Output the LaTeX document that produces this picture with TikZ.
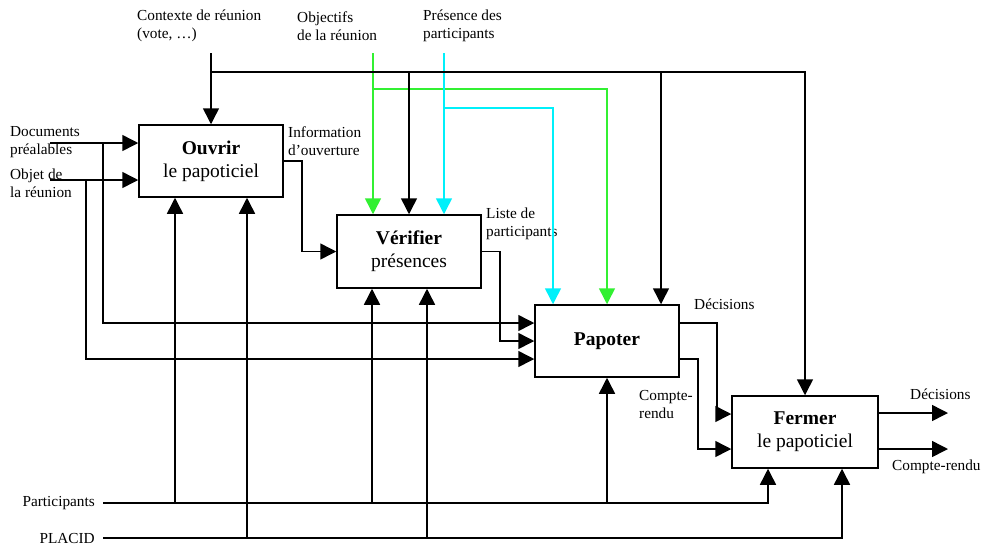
\documentclass[tikz,border=0pt]{standalone}
\usepackage{fontspec}
\setmainfont{Liberation Serif}
\usetikzlibrary{arrows.meta}
\definecolor{lgreen}{RGB}{50,240,50}
\definecolor{lcyan}{RGB}{0,240,250}
\begin{document}
\begin{tikzpicture}[x=1pt,y=-1pt,
 arr/.style={-{Triangle[length=16pt,width=16pt]}, line width=1.5pt},
 ln/.style={line width=1.5pt},
 box/.style={draw, line width=1.5pt, minimum width=144pt, minimum height=72pt, inner sep=0pt, align=center, font=\fontsize{19.5}{23}\selectfont},
 lab/.style={inner sep=0pt, align=left, anchor=west, font=\fontsize{15.3}{18}\selectfont}]
\useasboundingbox (0,0) rectangle (982,547);
% boxes
\node[box] (ouv) at (211,161) {\textbf{Ouvrir}\\le papoticiel};
\node[box, minimum height=73pt] (ver) at (409,251.5) {\textbf{Vérifier}\\présences};
\node[box] (pap) at (607,341) {\textbf{Papoter}};
\node[box, minimum width=146pt] (fer) at (805,432) {\textbf{Fermer}\\le papoticiel};
% labels
\node[lab] (lctx) at (137,26) {Contexte de réunion\\(vote, …)};
\node[lab] (lobj) at (297,26) {Objectifs\\de la réunion};
\node[lab] (lpres) at (423,26) {Présence des\\participants};
\node[lab] (ldoc) at (10,142) {Documents\\préalables};
\node[lab] (lobjet) at (10,183) {Objet de\\la réunion};
\node[lab] (linfo) at (288,141) {Information\\d’ouverture};
\node[lab] (lliste) at (486,223.5) {Liste de\\participants};
\node[lab] (ldec1) at (694,304) {Décisions};
\node[lab] (lcr1) at (639,404.5) {Compte-\\rendu};
\node[lab] (ldec2) at (910,394) {Décisions};
\node[lab] (lcr2) at (892,467) {Compte-rendu};
\node[lab, anchor=east] (lpart) at (95,503) {Participants};
\node[lab, anchor=east] (lplac) at (95,538) {PLACID};
% coordinates
\coordinate (ctxTop) at (211,53);
\coordinate (ctxJ) at (211,72);
\coordinate (k2) at (409,72);
\coordinate (k3) at (661,72);
\coordinate (gTop) at (373,53);
\coordinate (gJ) at (373,89);
\coordinate (cTop) at (444,53);
\coordinate (cJ) at (444,108);
\coordinate (cD) at (553,108);
\coordinate (doc) at (50,143);
\coordinate (docJ) at (103,143);
\coordinate (obj) at (50,180);
\coordinate (objJ) at (86,180);
\coordinate (outD) at (948,413);
\coordinate (outC) at (948,449);
\coordinate (partL) at (103,503);
\coordinate (pa1) at (175,503);
\coordinate (pa2) at (372,503);
\coordinate (pa3) at (607,503);
\coordinate (plL) at (103,538);
\coordinate (pl1) at (247,538);
\coordinate (pl2) at (427,538);
% coloured controls
\draw[arr, lgreen] (gTop) -- (gTop |- ver.north);
\draw[arr, lgreen] (gJ) -| (pap.north);
\draw[arr, lcyan] (cTop) -- (cTop |- ver.north);
\draw[arr, lcyan] (cJ) -- (cD) -- (cD |- pap.north);
% black controls
\draw[arr] (ctxTop) -- (ouv.north);
\draw[arr] (ctxJ) -| (fer.north);
\draw[arr] (k2) -- (ver.north);
\draw[arr] (k3) -- (k3 |- pap.north);
% inputs
\draw[arr] (doc) -- (doc -| ouv.west);
\draw[arr] (docJ) |- ([yshift=18pt]pap.west);
\draw[arr] (obj) -- (obj -| ouv.west);
\draw[arr] (objJ) |- ([yshift=-18pt]pap.west);
% flows
\draw[arr] (ouv.east) -- ++(18,0) |- (ver.west);
\draw[arr] (ver.east) -- ++(18,0) |- (pap.west);
\draw[arr] ([yshift=18pt]pap.east) -- ++(37,0) |- ([yshift=18pt]fer.west);
\draw[arr] ([yshift=-18pt]pap.east) -- ++(18,0) |- ([yshift=-17pt]fer.west);
\draw[arr] (fer.east |- outD) -- (outD);
\draw[arr] (fer.east |- outC) -- (outC);
% mechanisms
\draw[arr] (partL) -| ([xshift=-37pt]fer.south);
\draw[arr] (pa1) -- (pa1 |- ouv.south);
\draw[arr] (pa2) -- (pa2 |- ver.south);
\draw[arr] (pa3) -- (pap.south);
\draw[arr] (plL) -| ([xshift=37pt]fer.south);
\draw[arr] (pl1) -- (pl1 |- ouv.south);
\draw[arr] (pl2) -- (pl2 |- ver.south);
\end{tikzpicture}
\end{document}
